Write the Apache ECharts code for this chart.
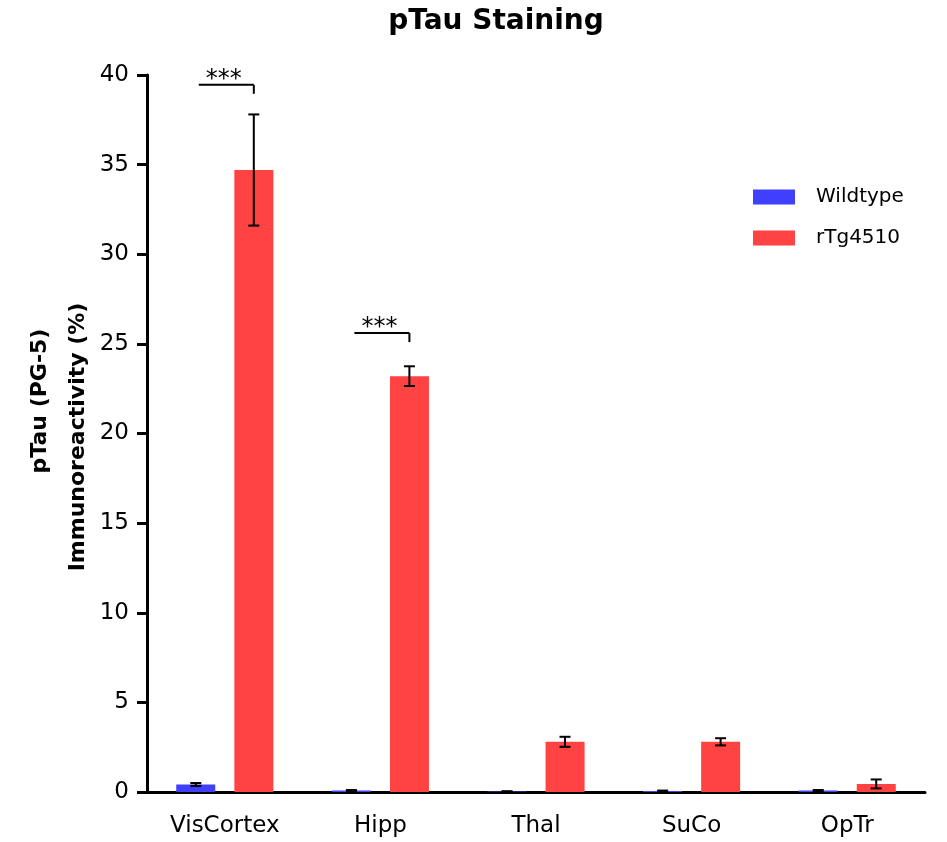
<!DOCTYPE html>
<html>
<head>
<meta charset="utf-8">
<script src="https://cdn.jsdelivr.net/npm/echarts@6/dist/echarts.min.js"></script>
<style>
  html, body { margin: 0; padding: 0; background: #fff; }
  #chart { width: 947px; height: 842px; }
</style>
</head>
<body>
<div id="chart"></div>
<script>
// Data
const categories = ['VisCortex', 'Hipp', 'Thal', 'SuCo', 'OpTr'];
const wildtypeMean = [0.42, 0.08, 0.03, 0.06, 0.08];
const wildtypeSem = [0.08, 0.03, 0.01, 0.02, 0.03];
const tgMean = [34.7, 23.2, 2.8, 2.8, 0.45];
const tgSem = [3.1, 0.55, 0.28, 0.2, 0.25];
// significance brackets: category index, line level, leg end
const sigIndex = [0, 1];
const sigTop = [39.45, 25.6];
const sigLeg = [38.95, 25.1];
const sigLabel = ['***', '***'];

const BLUE = '#3f3ffc';
const RED = '#ff4343';
const FONT = 'DejaVu Sans';
const BAR_W = 39;
const HALF_STEP = 29; // half of bar width + gap

const chart = echarts.init(document.getElementById('chart'));

// error bar drawer, dir = -1 for wildtype, +1 for rTg4510
const errRender = (dir) => (params, api) => {
    const i = api.value(0);
    const lo = api.coord([i, api.value(1)]);
    const hi = api.coord([i, api.value(2)]);
    const x = lo[0] + dir * HALF_STEP;
    const cap = 5.5;
    const st = { stroke: '#000', lineWidth: 2 };
    return {
        type: 'group',
        children: [
            { type: 'line', shape: { x1: x, y1: lo[1], x2: x, y2: hi[1] }, style: st },
            { type: 'line', shape: { x1: x - cap, y1: lo[1], x2: x + cap, y2: lo[1] }, style: st },
            { type: 'line', shape: { x1: x - cap, y1: hi[1], x2: x + cap, y2: hi[1] }, style: st }
        ]
    };
};

const bracketRender = (params, api) => {
    const i = api.value(0);
    const top = api.coord([i, api.value(1)]);
    const leg = api.coord([i, api.value(2)]);
    const xl = top[0] - HALF_STEP + 3;
    const xr = top[0] + HALF_STEP;
    const st = { stroke: '#000', lineWidth: 2 };
    return {
        type: 'group',
        children: [
            { type: 'line', shape: { x1: xl, y1: top[1], x2: xr, y2: top[1] }, style: st },
            { type: 'line', shape: { x1: xr, y1: top[1], x2: xr, y2: leg[1] }, style: st },
            {
                type: 'text',
                x: top[0] - 1, y: top[1] + 7,
                style: {
                    text: sigLabel[params.dataIndex],
                    fontFamily: FONT, fontSize: 24, fill: '#000',
                    align: 'center', verticalAlign: 'bottom'
                }
            }
        ]
    };
};

const option = {
    animation: false,
    title: {
        text: 'pTau Staining',
        left: 491,
        textAlign: 'center',
        top: 3,
        textStyle: { fontFamily: FONT, fontSize: 28, fontWeight: 'bold', color: '#000' }
    },
    legend: {
        orient: 'vertical',
        left: 748,
        top: 182,
        icon: 'rect',
        itemWidth: 42,
        itemHeight: 15,
        itemGap: 21,
        data: ['Wildtype', 'rTg4510'],
        textStyle: { fontFamily: FONT, fontSize: 20, color: '#000', padding: [0, 0, 0, 16] }
    },
    grid: { left: 147, right: 22, top: 75, bottom: 50 },
    xAxis: {
        type: 'category',
        data: categories,
        axisLine: { lineStyle: { color: '#000', width: 3 } },
        axisTick: { alignWithLabel: true, length: 13, lineStyle: { color: '#000', width: 3 } },
        axisLabel: { fontFamily: FONT, fontSize: 23, color: '#000', margin: 23 }
    },
    yAxis: {
        type: 'value',
        min: 0,
        max: 40,
        interval: 5,
        splitLine: { show: false },
        axisLine: { show: true, lineStyle: { color: '#000', width: 3 } },
        axisTick: { show: true, length: 10, lineStyle: { color: '#000', width: 3 } },
        axisLabel: { fontFamily: FONT, fontSize: 23, color: '#000', margin: 18 }
    },
    graphic: [
        {
            type: 'text', x: 40, y: 401, rotation: Math.PI / 2,
            style: { text: 'pTau (PG-5)', fontFamily: FONT, fontSize: 22, fontWeight: 'bold', fill: '#000', align: 'center', verticalAlign: 'middle' }
        },
        {
            type: 'text', x: 78, y: 437, rotation: Math.PI / 2,
            style: { text: 'Immunoreactivity (%)', fontFamily: FONT, fontSize: 22, fontWeight: 'bold', fill: '#000', align: 'center', verticalAlign: 'middle' }
        }
    ],
    series: [
        {
            name: 'Wildtype', type: 'bar', data: wildtypeMean,
            barWidth: BAR_W, barGap: '49%',
            itemStyle: { color: BLUE }
        },
        {
            name: 'rTg4510', type: 'bar', data: tgMean,
            barWidth: BAR_W,
            itemStyle: { color: RED }
        },
        {
            type: 'custom', renderItem: errRender(-1), z: 5,
            data: wildtypeMean.map((m, i) => [i, Math.max(0, m - wildtypeSem[i]), m + wildtypeSem[i]])
        },
        {
            type: 'custom', renderItem: errRender(1), z: 5,
            data: tgMean.map((m, i) => [i, Math.max(0, m - tgSem[i]), m + tgSem[i]])
        },
        {
            type: 'custom', renderItem: bracketRender, z: 5,
            data: sigIndex.map((c, k) => [c, sigTop[k], sigLeg[k]])
        }
    ]
};

chart.setOption(option);
</script>
</body>
</html>
